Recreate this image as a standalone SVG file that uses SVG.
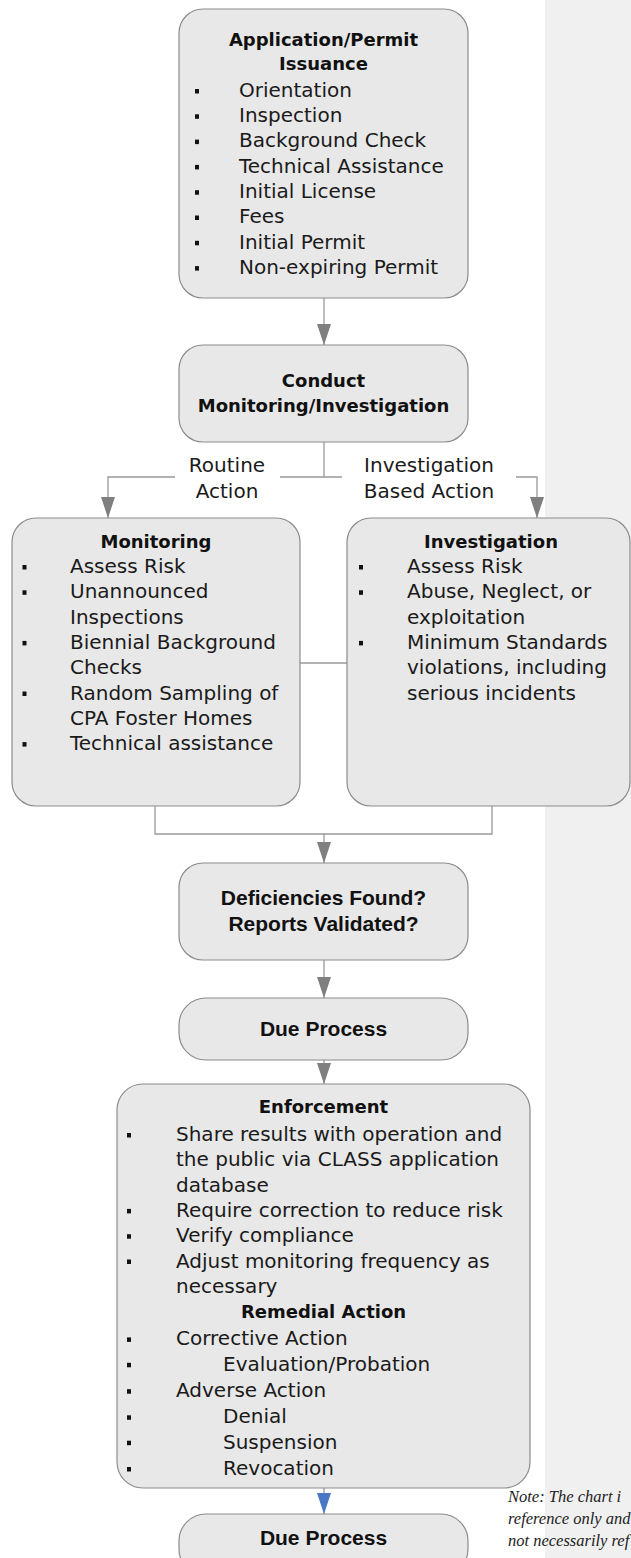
<svg xmlns="http://www.w3.org/2000/svg" width="631" height="1558" viewBox="0 0 631 1558">
<style>
.box{fill:#e8e8e8;stroke:#8c8c8c;stroke-width:1.2}
.t{font-family:"DejaVu Sans",sans-serif;font-size:20px;fill:#1a1a1a}
.h{font-family:"DejaVu Sans",sans-serif;font-size:18px;font-weight:bold;fill:#111;text-anchor:middle}
.a{font-family:"Liberation Sans",Arial,sans-serif;font-size:21px;font-weight:bold;fill:#111;text-anchor:middle}
.lbl{font-family:"DejaVu Sans",sans-serif;font-size:20px;fill:#1a1a1a;text-anchor:middle}
.note{font-family:"Liberation Serif",serif;font-style:italic;font-size:16.5px;fill:#222}
.b{fill:#111}
.ln{fill:none;stroke:#999;stroke-width:1.3}
</style>
<defs>
<marker id="arr" markerUnits="userSpaceOnUse" viewBox="0 0 21 14" refX="21" refY="7" markerWidth="21" markerHeight="14" orient="auto">
<path d="M0,0 L21,7 L0,14 z" fill="#7f7f7f"/>
</marker>
<marker id="arrb" markerUnits="userSpaceOnUse" viewBox="0 0 21 14" refX="21" refY="7" markerWidth="21" markerHeight="14" orient="auto">
<path d="M0,0 L21,7 L0,14 z" fill="#4a78c4"/>
</marker>
</defs>
<rect id="side-panel" x="545" y="0" width="86" height="1558" fill="#f0f0f0"/>

<g id="connectors">
<line class="ln" x1="324" y1="298" x2="324" y2="345" marker-end="url(#arr)"/>
<line class="ln" x1="324" y1="442" x2="324" y2="477"/>
<polyline class="ln" points="175,477 108,477 108,518" marker-end="url(#arr)"/>
<line class="ln" x1="280" y1="477" x2="342" y2="477"/>
<polyline class="ln" points="516,477 537,477 537,518" marker-end="url(#arr)"/>
<line class="ln" x1="300" y1="663" x2="347" y2="663"/>
<polyline class="ln" points="155,806 155,834 492,834 492,806"/>
<line class="ln" x1="324" y1="834" x2="324" y2="863" marker-end="url(#arr)"/>
<line class="ln" x1="324" y1="960" x2="324" y2="998" marker-end="url(#arr)"/>
<line class="ln" x1="324" y1="1060" x2="324" y2="1084" marker-end="url(#arr)"/>
<line class="ln" x1="324" y1="1488" x2="324" y2="1514" marker-end="url(#arrb)"/>
<text class="lbl" x="227" y="472">Routine</text>
<text class="lbl" x="227" y="498">Action</text>
<text class="lbl" x="429" y="472">Investigation</text>
<text class="lbl" x="429" y="498">Based Action</text>
</g>

<g id="application">
<rect class="box" x="179" y="9" width="289" height="289" rx="24"/>
<text class="h" x="323.5" y="46">Application/Permit</text>
<text class="h" x="323.5" y="70">Issuance</text>
<rect class="b" x="195" y="89" width="4" height="4.5"/><text class="t" x="239" y="96.7">Orientation</text>
<rect class="b" x="195" y="114.3" width="4" height="4.5"/><text class="t" x="239" y="122">Inspection</text>
<rect class="b" x="195" y="139.6" width="4" height="4.5"/><text class="t" x="239" y="147.3">Background Check</text>
<rect class="b" x="195" y="164.9" width="4" height="4.5"/><text class="t" x="239" y="172.6">Technical Assistance</text>
<rect class="b" x="195" y="190.2" width="4" height="4.5"/><text class="t" x="239" y="197.9">Initial License</text>
<rect class="b" x="195" y="215.5" width="4" height="4.5"/><text class="t" x="239" y="223.2">Fees</text>
<rect class="b" x="195" y="240.8" width="4" height="4.5"/><text class="t" x="239" y="248.5">Initial Permit</text>
<rect class="b" x="195" y="266.1" width="4" height="4.5"/><text class="t" x="239" y="273.8">Non-expiring Permit</text>
</g>

<g id="conduct">
<rect class="box" x="179" y="345" width="289" height="97" rx="24"/>
<text class="h" x="323.5" y="387">Conduct</text>
<text class="h" x="323.5" y="412">Monitoring/Investigation</text>
</g>

<g id="monitoring">
<rect class="box" x="12" y="518" width="288" height="288" rx="24"/>
<text class="h" x="156" y="548">Monitoring</text>
<rect class="b" x="22.5" y="565" width="4" height="4.5"/><text class="t" x="70" y="573">Assess Risk</text>
<rect class="b" x="22.5" y="590.3" width="4" height="4.5"/><text class="t" x="70" y="598.3">Unannounced</text>
<text class="t" x="70" y="623.6">Inspections</text>
<rect class="b" x="22.5" y="640.9" width="4" height="4.5"/><text class="t" x="70" y="648.9">Biennial Background</text>
<text class="t" x="70" y="674.2">Checks</text>
<rect class="b" x="22.5" y="691.5" width="4" height="4.5"/><text class="t" x="70" y="699.5">Random Sampling of</text>
<text class="t" x="70" y="724.8">CPA Foster Homes</text>
<rect class="b" x="22.5" y="742.1" width="4" height="4.5"/><text class="t" x="70" y="750.1">Technical assistance</text>
</g>

<g id="investigation">
<rect class="box" x="347" y="518" width="283" height="288" rx="24"/>
<text class="h" x="491" y="548">Investigation</text>
<rect class="b" x="359" y="565" width="4" height="4.5"/><text class="t" x="407" y="573">Assess Risk</text>
<rect class="b" x="359" y="590.3" width="4" height="4.5"/><text class="t" x="407" y="598.3">Abuse, Neglect, or</text>
<text class="t" x="407" y="623.6">exploitation</text>
<rect class="b" x="359" y="640.9" width="4" height="4.5"/><text class="t" x="407" y="648.9">Minimum Standards</text>
<text class="t" x="407" y="674.2">violations, including</text>
<text class="t" x="407" y="699.5">serious incidents</text>
</g>

<g id="deficiencies">
<rect class="box" x="179" y="863" width="289" height="97" rx="24"/>
<text class="a" x="323.5" y="905">Deficiencies Found?</text>
<text class="a" x="323.5" y="931">Reports Validated?</text>
</g>

<g id="due-process-1">
<rect class="box" x="179" y="998" width="289" height="62" rx="27"/>
<text class="a" x="323.5" y="1036">Due Process</text>
</g>

<g id="enforcement">
<rect class="box" x="117" y="1084" width="413" height="404" rx="26"/>
<text class="h" x="323.5" y="1113">Enforcement</text>
<rect class="b" x="127" y="1133" width="4" height="4.5"/><text class="t" x="176" y="1141">Share results with operation and</text>
<text class="t" x="176" y="1166.3">the public via CLASS application</text>
<text class="t" x="176" y="1191.6">database</text>
<rect class="b" x="127" y="1208.9" width="4" height="4.5"/><text class="t" x="176" y="1216.9">Require correction to reduce risk</text>
<rect class="b" x="127" y="1234.2" width="4" height="4.5"/><text class="t" x="176" y="1242.2">Verify compliance</text>
<rect class="b" x="127" y="1259.5" width="4" height="4.5"/><text class="t" x="176" y="1267.5">Adjust monitoring frequency as</text>
<text class="t" x="176" y="1292.8">necessary</text>
<text class="h" x="323.5" y="1317.5">Remedial Action</text>
<rect class="b" x="127" y="1337.4" width="4" height="4.5"/><text class="t" x="176" y="1345.4">Corrective Action</text>
<rect class="b" x="127" y="1362.8" width="4" height="4.5"/><text class="t" x="223" y="1370.8">Evaluation/Probation</text>
<rect class="b" x="127" y="1389.2" width="4" height="4.5"/><text class="t" x="176" y="1397.2">Adverse Action</text>
<rect class="b" x="127" y="1415.3" width="4" height="4.5"/><text class="t" x="223" y="1423.3">Denial</text>
<rect class="b" x="127" y="1440.7" width="4" height="4.5"/><text class="t" x="223" y="1448.7">Suspension</text>
<rect class="b" x="127" y="1467" width="4" height="4.5"/><text class="t" x="223" y="1475">Revocation</text>
</g>

<g id="due-process-2">
<rect class="box" x="179" y="1514" width="289" height="62" rx="27"/>
<text class="a" x="323.5" y="1545">Due Process</text>
</g>

<g id="note">
<text class="note" x="508" y="1502">Note: The chart i</text>
<text class="note" x="508" y="1524">reference only and</text>
<text class="note" x="508" y="1546">not necessarily ref</text>
</g>
</svg>
